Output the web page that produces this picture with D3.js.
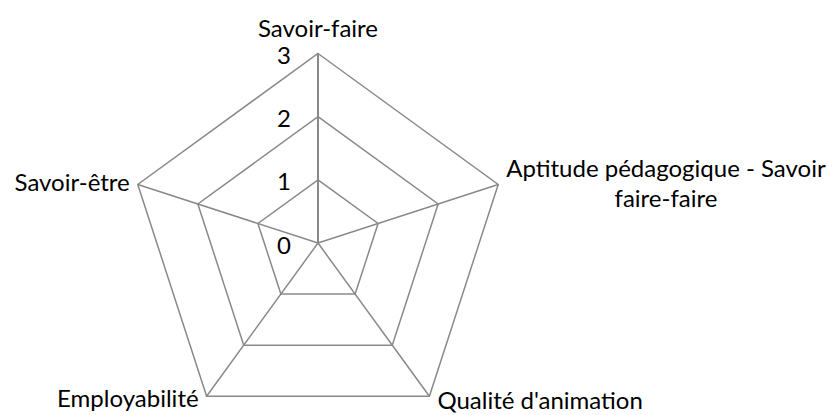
<!DOCTYPE html>
<html>
<head>
<meta charset="utf-8">
<script src="https://cdn.jsdelivr.net/npm/d3@7"></script>
<style>
  html, body { margin: 0; padding: 0; background: #fff; }
  svg text { font-family: Lato, "Open Sans", sans-serif; fill: #000; }
</style>
</head>
<body>
<svg id="chart" width="836" height="415"></svg>
<script>
// categories around the radar, clockwise from top
const categories = [
  "Savoir-faire",
  "Aptitude pédagogique - Savoir faire-faire",
  "Qualité d'animation",
  "Employabilité",
  "Savoir-être"
];
// value axis ticks
const ticks = [0, 1, 2, 3];

function drawRadar() {
  const cx = 318, cy = 243;
  const radius = 189.5;
  const fontSize = 24;
  const gridColor = "#898989";

  const svg = d3.select("svg#chart");

  const r = d3.scaleLinear()
    .domain([0, d3.max(ticks)])
    .range([0, radius]);

  const angle = d3.scaleLinear()
    .domain([0, categories.length])
    .range([0, 2 * Math.PI]);

  // point on axis i at value v
  function pt(i, v) {
    const a = angle(i);
    return [cx + r(v) * Math.sin(a), cy - r(v) * Math.cos(a)];
  }

  const g = svg.append("g");

  // grid pentagons (skip 0)
  g.selectAll(".level")
    .data(ticks.filter(t => t > 0))
    .enter().append("polygon")
    .attr("class", "level")
    .attr("points", t => categories.map((c, i) => pt(i, t).join(",")).join(" "))
    .attr("fill", "none")
    .attr("stroke", gridColor)
    .attr("stroke-width", 1.5);

  // spokes
  g.selectAll(".spoke")
    .data(categories)
    .enter().append("line")
    .attr("class", "spoke")
    .attr("x1", cx).attr("y1", cy)
    .attr("x2", (d, i) => pt(i, d3.max(ticks))[0])
    .attr("y2", (d, i) => pt(i, d3.max(ticks))[1])
    .attr("stroke", gridColor)
    .attr("stroke-width", (d, i) => i === 0 ? 2 : 1.5);

  // value axis tick labels
  g.selectAll(".tick")
    .data(ticks)
    .enter().append("text")
    .attr("class", "tick")
    .attr("x", cx - 27)
    .attr("y", t => pt(0, t)[1] + 1)
    .attr("text-anchor", "end")
    .attr("dominant-baseline", "central")
    .style("font-size", fontSize + "px")
    .text(t => t);

  // category labels
  const maxW = 330;
  const lineH = 30;
  categories.forEach((name, i) => {
    const [vx, vy] = pt(i, d3.max(ticks));
    const t = g.append("text").style("font-size", fontSize + "px");

    // simple word wrap
    const words = name.split(" ");
    const lines = [];
    let cur = "";
    const probe = t.append("tspan");
    words.forEach(w => {
      const test = cur ? cur + " " + w : w;
      probe.text(test);
      if (probe.node().getComputedTextLength() > maxW && cur) {
        lines.push(cur);
        cur = w;
      } else {
        cur = test;
      }
    });
    lines.push(cur);
    probe.remove();

    const spans = lines.map(l => t.append("tspan").text(l));
    const widths = spans.map(s => s.node().getComputedTextLength());
    const blockW = d3.max(widths);

    // baseline of the first line
    let left, base;
    const dx = vx - cx;
    if (Math.abs(dx) < 1) {
      left = vx - blockW / 2;
      base = vy - 17;
    } else if (dx > 0) {
      left = vx + 8;
      base = lines.length > 1 ? vy - 7 : (vy > cy + 100 ? vy + 13 : vy + 7);
    } else {
      left = vx - 8 - blockW;
      base = vy > cy + 100 ? vy + 11 : vy + 7;
    }

    spans.forEach((s, k) => {
      s.attr("x", left + (blockW - widths[k]) / 2)
        .attr("y", base + k * lineH);
    });
  });
}

drawRadar();
</script>
</body>
</html>
